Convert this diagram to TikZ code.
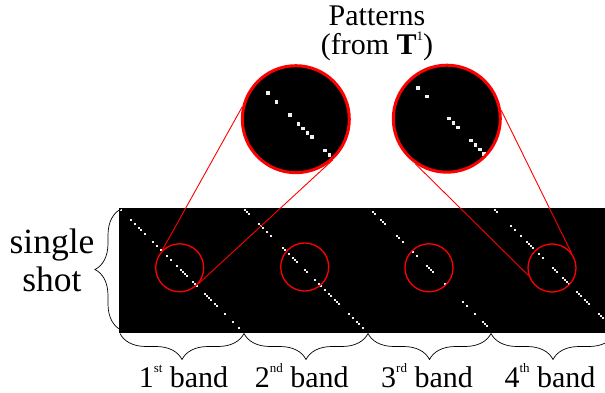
\documentclass[tikz,border=0pt]{standalone}
\usepackage{fontspec}
\setmainfont{Liberation Serif}
\usetikzlibrary{decorations.pathreplacing}
\definecolor{dotgray}{RGB}{240,240,240}

\tikzset{
  lens/.style={circle,draw=red,line width=1.3pt,minimum size=48pt,inner sep=0pt},
  bigview/.style={circle,draw=red,line width=3pt,fill=black,minimum size=107pt,inner sep=0pt},
  zoomline/.style={red,line width=0.9pt},
  brc/.style={decorate,decoration={brace,amplitude=26pt},line width=0.7pt},
}
% small raised suffix
\newcommand{\ordsuf}[1]{\raisebox{1.05ex}{\fontsize{13}{13}\selectfont #1}}
% diagonal dots of the four bands (index step = 2px)
\newcommand{\shotdots}{%
  \foreach \bx/\hits in {121/{0,5,7,9,10,12,16,18,20,23,25,28,30,31,32,33,36,37,38,42,43,44,45,47,48,52,56,59},
      245/{0,1,2,7,8,9,11,13,19,20,22,24,25,26,30,31,35,37,38,40,42,43,45,46,47,52,54,56,57,59},
      371/{1,2,5,6,7,13,14,16,21,23,28,29,30,31,37,46,48,52,56,57,58},
      495/{0,1,8,10,13,16,17,18,19,22,24,29,30,31,34,35,36,37,41,42,43,45,46,47,52,53,54}}
    \foreach \k in \hits
      \fill[dotgray] (\bx+2*\k-0.8,209.2+2*\k) rectangle ++(1.6,1.6);}

\begin{document}
\begin{tikzpicture}[x=1pt,y=-1pt]
\useasboundingbox (0,0) rectangle (605,393);
\fill[black] (119,208) rectangle (616,333);
\shotdots
\node[lens] (lens1) at (179.7,267.8) {};
\node[lens] (lens2) at (304.7,267) {};
\node[lens] (lens3) at (429,267.8) {};
\node[lens] (lens4) at (552,268) {};
% magnified views
\node[bigview] (bigA) at (295.8,119.2) {};
\node[bigview] (bigB) at (446.8,118.7) {};
\begin{scope}
  \clip (bigA.center) circle (52pt);
  \begin{scope}[shift={(bigA.center)},scale=2.2,shift={(-179.7,-267.8)}]\shotdots\end{scope}
\end{scope}
\begin{scope}
  \clip (bigB.center) circle (52pt);
  \begin{scope}[shift={(bigB.center)},scale=2.2,shift={(-552,-268)}]\shotdots\end{scope}
\end{scope}
\draw[zoomline] (bigA.167) -- (lens1.136);
\draw[zoomline] (bigA.-48) -- (lens1.-40);
\draw[zoomline] (bigB.235) -- (lens4.198);
\draw[zoomline] (bigB.9) -- (lens4.38);
% labels and braces
\node[align=center,inner sep=0pt,anchor=north,font=\fontsize{30}{29}\selectfont] (patterns) at (377,6) {Patterns\\(from \textbf{T}\ordsuf{1})};
\node[align=center,inner sep=0pt,anchor=north,font=\fontsize{35.5}{38}\selectfont] (shotlbl) at (52,228.5) {single\\shot};
\coordinate (s0) at (121,330);
\coordinate (s1) at (121,209);
\draw[brc] (s0) -- (s1);
\foreach \i/\x in {0/120,1/244,2/368,3/491,4/615} \coordinate (t\i) at (\x,333.5);
\foreach \i/\j in {0/1,1/2,2/3,3/4} \draw[brc] (t\j) -- (t\i);
\foreach \i/\x/\suf in {1/183.5/st,2/301.7/nd,3/427/rd,4/550/th}
  \node[anchor=base,font=\fontsize{30}{30}\selectfont] (band\i) at (\x,387.3) {\i\ordsuf{\suf} band};
\end{tikzpicture}
\end{document}
